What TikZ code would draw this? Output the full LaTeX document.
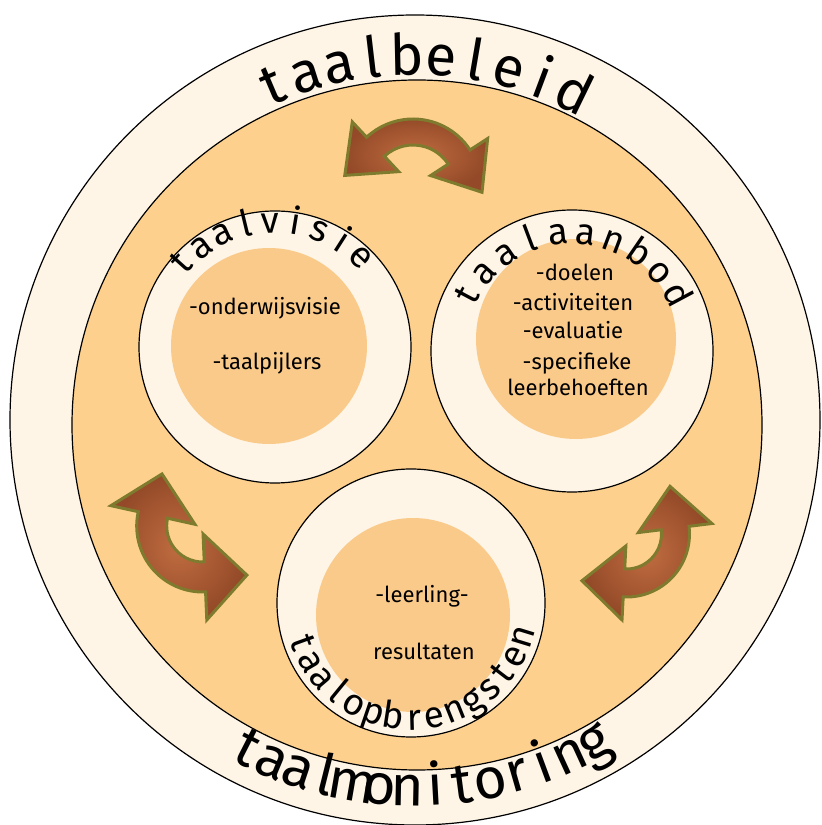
\documentclass[tikz,border=0pt]{standalone}
\usepackage{fontspec}
\newfontfamily\ringfont{Fira Sans}
\usetikzlibrary{calc}
\definecolor{ringcream}{HTML}{FEF5E6}
\definecolor{fieldorange}{HTML}{FDD18D}
\definecolor{coreorange}{HTML}{FACA8A}
\definecolor{arrowbrown}{HTML}{944A28}
\definecolor{arrowlight}{HTML}{C06C40}
\definecolor{arrowolive}{HTML}{7E7B2E}
\newcommand{\bigwords}{\ringfont\fontsize{57}{60}\selectfont}
\newcommand{\smallwords}{\ringfont\fontsize{37}{40}\selectfont}
\newcommand{\swaparrow}[7]{%
\begin{scope}[shift={#1}, rotate=#2]
\path[swaparrowstyle] (90-#3:#4+#5) arc[start angle=90-#3, end angle=90+#3, radius=#4+#5]
  -- (90+#3:#4+#6) -- ($(90+#3:#4)+(180+#3:#7)$) -- (90+#3:#4-#6) -- (90+#3:#4-#5)
  arc[start angle=90+#3, end angle=90-#3, radius=#4-#5]
  -- (90-#3:#4-#6) -- ($(90-#3:#4)+(-#3:#7)$) -- (90-#3:#4+#6) -- cycle;
\end{scope}}
\newdimen\wordwidth
\newdimen\wordpos
\newdimen\letterwidth
\newcount\wordletters
% letters spread evenly along an arc: centre, radius, start angle, end angle, font, letters
\newcommand{\arcword}[6]{%
\begingroup #5%
\global\wordwidth=0pt \global\wordletters=0
\foreach \ch in {#6}{\setbox0=\hbox{\ch}\global\advance\wordwidth by \wd0 \global\advance\wordletters by 1 }%
\pgfmathsetmacro\wordgap{(#2/180*pi*abs(#4-#3)-\wordwidth)/(\wordletters-1)}%
\pgfmathsetmacro\wordsign{sign(#4-#3)}%
\global\wordpos=0pt
\foreach \ch [count=\i] in {#6}{%
  \setbox0=\hbox{\ch}\letterwidth=\wd0
  \pgfmathsetmacro\letterangle{#3+\wordsign*(\wordpos+0.5*\letterwidth)/#2*180/pi}%
  \node[ringletter, font=#5, rotate=\letterangle+90*\wordsign] (#1\i) at ($(#1)+(\letterangle:#2)$) {\ch};
  \global\advance\wordpos by \letterwidth
  \global\advance\wordpos by \wordgap pt
}%
\endgroup}

\begin{document}
\begin{tikzpicture}[x=1pt, y=1pt]
\tikzset{ringline/.style={draw=black, line width=1.2}}
\tikzset{swaparrowstyle/.style={draw=arrowolive, line width=3, line join=miter, inner color=arrowlight, outer color=arrowbrown}}
\tikzset{listtext/.style={font=\ringfont\fontsize{22}{24}\selectfont, align=center, inner sep=0pt}}
\tikzset{ringletter/.style={anchor=base, inner sep=0pt}}
\fill[white] (0,0) rectangle (822,825);
\useasboundingbox (0,0) rectangle (822,825);
\coordinate (beleid) at (415,405);
\coordinate (monitoring) at (415,405);
\coordinate (veld) at (417,400);
\coordinate (visie) at (275,478);
\coordinate (visiekern) at (269,479);
\coordinate (aanbod) at (572,474);
\coordinate (aanbodkern) at (576,486);
\coordinate (opbrengst) at (411,222);
\coordinate (opbrengstkern) at (413,210);
\fill[ringcream, ringline] (beleid) circle[radius=405];
\fill[fieldorange, ringline] (veld) circle[radius=345];
\fill[ringcream, ringline] (visie) circle[radius=136];
\fill[coreorange] (visiekern) circle[radius=98];
\fill[ringcream, ringline] (aanbod) circle[radius=141];
\fill[coreorange] (aanbodkern) circle[radius=100];
\fill[ringcream, ringline] (opbrengst) circle[radius=134];
\fill[coreorange] (opbrengstkern) circle[radius=97];
\swaparrow{(413,638)}{-7}{50}{55}{13}{34}{42}
\swaparrow{(202.7,299)}{130}{52.5}{51}{15}{43}{42}
\swaparrow{(626.5,291)}{227}{50}{49}{14}{37}{42}
\arcword{beleid}{345}{113}{64}{\bigwords}{t,a,a,l,b,e,l,e,i,d}
\arcword{monitoring}{386}{243}{299}{\bigwords}{t,a,a,l,m,o,n,i,t,o,r,i,n,g}
\arcword{visie}{114}{138}{46}{\smallwords}{t,a,a,l,v,i,s,i,e}
\arcword{aanbod}{107}{152}{28}{\smallwords}{t,a,a,l,a,a,n,b,o,d}
\arcword{opbrengst}{127}{200}{343}{\smallwords}{t,a,a,l,o,p,b,r,e,n,g,s,t,e,n}
\node[listtext] (visie1) at (265,517) {-onderwijsvisie};
\node[listtext] (visie2) at (267,462) {-taalpijlers};
\node[listtext] (aanbod1) at (575,553) {-doelen};
\node[listtext] (aanbod2) at (573,523) {-activiteiten};
\node[listtext] (aanbod3) at (573,495) {-evaluatie};
\node[listtext] (aanbod4) at (577,462) {-specifieke};
\node[listtext] (aanbod5) at (578,438) {leerbehoeften};
\node[listtext] (opbrengst1) at (422,229) {-leerling-};
\node[listtext] (opbrengst2) at (424,174) {resultaten};
\end{tikzpicture}
\end{document}
